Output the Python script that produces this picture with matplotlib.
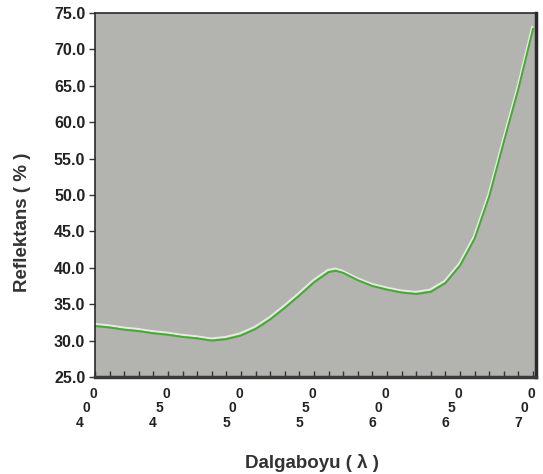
import numpy as np
import matplotlib.pyplot as plt
import matplotlib.patheffects as pe

plt.rcParams['font.family'] = ['Liberation Sans', 'DejaVu Sans']

# reflectance curve
wavelength = [400, 410, 420, 430, 440, 450, 460, 470, 480, 490, 500, 510, 520,
              530, 540, 550, 560, 565, 570, 580, 590, 600, 610, 620, 630, 640,
              650, 660, 670, 680, 690, 700]
reflectance = [32.0, 31.8, 31.5, 31.3, 31.0, 30.8, 30.5, 30.3, 30.0, 30.2, 30.7,
               31.6, 32.9, 34.5, 36.2, 38.0, 39.4, 39.6, 39.3, 38.3, 37.5, 37.0,
               36.6, 36.4, 36.7, 37.9, 40.3, 44.0, 49.8, 57.3, 64.6, 72.8]
xticks = [400, 450, 500, 550, 600, 650, 700]
yticks = [25, 30, 35, 40, 45, 50, 55, 60, 65, 70, 75]

fig = plt.figure(figsize=(5.43, 4.74), dpi=100)
ax = fig.add_axes([0.175, 0.2046, 0.812, 0.768])
ax.set_facecolor('#b3b3af')

ax.plot(wavelength, reflectance, color='#3fae2c', lw=1.4,
        path_effects=[pe.SimpleLineShadow(offset=(-0.6, 1.6), shadow_color='#f2ecef', alpha=0.9),
                      pe.Normal()])

ax.set_xlim(400, 702)
ax.set_ylim(25, 75)

ax.set_yticks(yticks)
ax.set_yticklabels(['%.1f' % v for v in yticks], fontsize=11.5, fontweight='bold',
                   color='#222222')
ax.tick_params(axis='y', direction='out', length=4, width=1, color='#333333', pad=3)

ax.set_xticks(np.arange(400, 701, 10))
ax.tick_params(axis='x', direction='in', length=4, width=1, color='#333333',
               labelbottom=False)

# x labels: digits stacked diagonally
for v in xticks:
    s = str(v)
    offs = [(-2, -17), (-8.5, -31), (-15, -46)]
    for i, d in enumerate(reversed(s)):
        ax.annotate(d, xy=(v, 0), xycoords=('data', 'axes fraction'),
                    xytext=offs[i], textcoords='offset pixels',
                    ha='center', va='center', fontsize=10, fontweight='bold',
                    color='#222222')

for side in ['top', 'left']:
    ax.spines[side].set_color('#2a2a2a')
    ax.spines[side].set_linewidth(1.2)
ax.spines['right'].set_color('#2a2a2a')
ax.spines['right'].set_linewidth(2.5)
ax.spines['bottom'].set_color('#3a3a3a')
ax.spines['bottom'].set_linewidth(2.5)

fig.text(0.041, 0.53, 'Reflektans ( % )', rotation=90, ha='center', va='center',
         fontsize=13.5, fontweight='bold', color='#333333')
fig.text(0.575, 0.023, 'Dalgaboyu ( λ )', ha='center', va='center',
         fontsize=13.5, fontweight='bold', color='#333333')

fig.savefig('out.png', dpi=100)
